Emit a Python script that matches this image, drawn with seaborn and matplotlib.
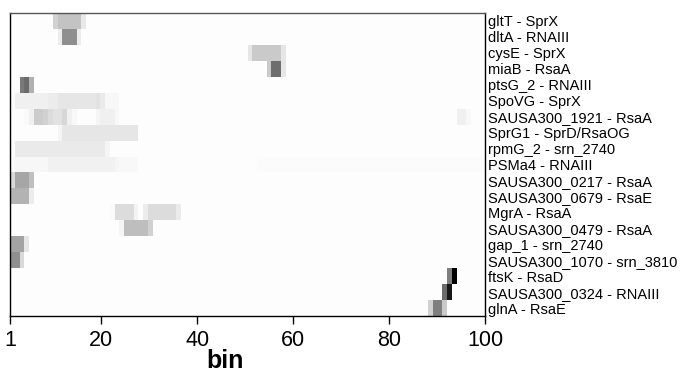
import numpy as np
import pandas as pd
import matplotlib
matplotlib.use("Agg")
import matplotlib.pyplot as plt
import seaborn as sns

# ---- data -------------------------------------------------------------
pairs = [
    "gltT - SprX", "dltA - RNAIII", "cysE - SprX", "miaB - RsaA",
    "ptsG_2 - RNAIII", "SpoVG - SprX", "SAUSA300_1921 - RsaA",
    "SprG1 - SprD/RsaOG", "rpmG_2 - srn_2740", "PSMa4 - RNAIII",
    "SAUSA300_0217 - RsaA", "SAUSA300_0679 - RsaE", "MgrA - RsaA",
    "SAUSA300_0479 - RsaA", "gap_1 - srn_2740", "SAUSA300_1070 - srn_3810",
    "ftsK - RsaD", "SAUSA300_0324 - RNAIII", "glnA - RsaE",
]
n_bins = 100
background = 0.008
# (first bin, last bin, value) runs
runs = {
    "gltT - SprX": [(10, 10, .18), (11, 15, .235), (16, 16, .09)],
    "dltA - RNAIII": [(11, 11, .075), (12, 14, .44), (15, 15, .075)],
    "cysE - SprX": [(51, 51, .10), (52, 57, .21), (58, 58, .10)],
    "miaB - RsaA": [(55, 55, .21), (56, 57, .57), (58, 58, .10)],
    "ptsG_2 - RNAIII": [(3, 3, .52), (4, 4, .58), (5, 5, .31)],
    "SpoVG - SprX": [(2, 8, .06), (9, 10, .075), (11, 18, .10), (19, 19, .115),
                     (20, 20, .085), (21, 23, .035)],
    "SAUSA300_1921 - RsaA": [(4, 4, .02), (5, 5, .06), (6, 7, .20), (8, 8, .18),
                             (9, 9, .14), (10, 11, .115), (12, 12, .16),
                             (13, 13, .06), (14, 14, .03), (19, 19, .04),
                             (20, 22, .06), (23, 23, .03), (95, 96, .06),
                             (97, 97, .03)],
    "SprG1 - SprD/RsaOG": [(11, 11, .04), (12, 27, .10)],
    "rpmG_2 - srn_2740": [(2, 20, .085), (21, 21, .04)],
    "PSMa4 - RNAIII": [(1, 1, .02), (2, 8, .035), (9, 22, .055), (23, 23, .04),
                       (24, 27, .03), (53, 100, .018)],
    "SAUSA300_0217 - RsaA": [(1, 1, .15), (2, 4, .35), (5, 5, .25)],
    "SAUSA300_0679 - RsaE": [(1, 4, .30), (5, 5, .075)],
    "MgrA - RsaA": [(22, 22, .02), (23, 26, .14), (27, 27, .05), (29, 29, .075),
                    (30, 35, .14), (36, 36, .08)],
    "SAUSA300_0479 - RsaA": [(24, 24, .04), (25, 29, .255), (30, 30, .18)],
    "gap_1 - srn_2740": [(1, 3, .36), (4, 4, .10)],
    "SAUSA300_1070 - srn_3810": [(1, 2, .44), (3, 3, .15)],
    "ftsK - RsaD": [(93, 93, .50), (94, 94, 1.0)],
    "SAUSA300_0324 - RNAIII": [(92, 92, .58), (93, 93, .91)],
    "glnA - RsaE": [(89, 89, .18), (90, 91, .50), (92, 92, .21)],
}
xtick_values = [1, 20, 40, 60, 80, 100]
x_label = "bin"

# ---- build matrix -----------------------------------------------------
mat = np.full((len(pairs), n_bins), background)
for i, p in enumerate(pairs):
    for s, e, v in runs[p]:
        mat[i, s - 1:e] = v
df = pd.DataFrame(mat, index=pairs, columns=np.arange(1, n_bins + 1))

# ---- plot -------------------------------------------------------------
sns.set_style("white")
plt.rcParams["font.family"] = ["Liberation Sans", "DejaVu Sans"]
plt.rcParams["text.color"] = "black"
plt.rcParams["xtick.color"] = "black"
plt.rcParams["ytick.color"] = "black"

W, H = 682, 383
fig = plt.figure(figsize=(W / 100, H / 100), dpi=100)
ax = fig.add_axes([10 / W, 1 - 316 / H, 475 / W, 303 / H])

sns.heatmap(df, ax=ax, cmap="gray_r", vmin=0, vmax=1, cbar=False,
            xticklabels=False, yticklabels=pairs)

ax.set_xticks([(v - 1) * n_bins / (n_bins - 1) for v in xtick_values])
ax.set_xticklabels([str(v) for v in xtick_values])
ax.tick_params(axis="x", bottom=True, length=6, width=1, labelsize=15.5,
               pad=4, colors="black", labelcolor="black")

ax.yaxis.set_ticks_position("right")
ax.tick_params(axis="y", left=False, right=False, labelleft=False,
               labelright=True, length=0, pad=2, labelsize=10.5,
               labelcolor="black")
for t in ax.get_yticklabels():
    t.set_rotation(0)

for sp in ax.spines.values():
    sp.set_visible(True)
    sp.set_color("black")
    sp.set_linewidth(1)
ax.spines["top"].set_color("#555555")

ax.set_xlabel("")
ax.set_ylabel("")
fig.text(225 / W, 1 - 361 / H, x_label, fontsize=18, fontweight="bold",
         ha="center", va="center", color="black")

fig.savefig("out.png", dpi=100)
